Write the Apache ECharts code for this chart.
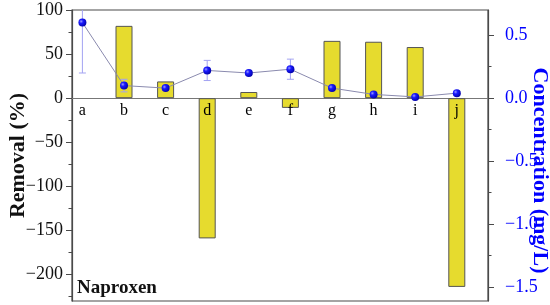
<!DOCTYPE html>
<html><head><meta charset="utf-8">
<script src="https://cdn.jsdelivr.net/npm/echarts@6/dist/echarts.min.js"></script>
<style>html,body{margin:0;padding:0;background:#fff}#c{width:550px;height:305px}</style>
</head><body><div id="c"></div>
<script>
const categories = ['a','b','c','d','e','f','g','h','i','j'];
const removal = [null, 82, 19, -159, 7, -11, 65, 64, 58, -214];
const concentration = [0.60, 0.10, 0.08, 0.22, 0.20, 0.23, 0.08, 0.03, 0.01, 0.04];
const concentrationErr = [0.40, 0.05, 0.015, 0.08, 0.015, 0.08, 0.015, 0.015, 0.01, 0.015];
const removalMajorTicks = [-200, -150, -100, -50, 0, 50, 100];
const removalMinorTicks = [-225, -175, -125, -75, -25, 25, 75];
const concMajorTicks = [-1.5, -1.0, -0.5, 0.0, 0.5];
const concMinorTicks = [-1.25, -0.75, -0.25, 0.25];

const positions = categories.map((c, i) => i + 1);
const SERIF = 'Liberation Serif';
const AX = '#4a4a4a';
const fmtMinus = (s) => s.charAt(0) === '-' ? '\u2212' + s.slice(1) : s;

const barData = positions.map((p, i) => [p, removal[i]]).filter(d => d[1] !== null);
const lineData = positions.map((p, i) => [p, concentration[i]]);
const errData = positions.map((p, i) => [p, concentration[i] - concentrationErr[i], concentration[i] + concentrationErr[i]]);
const catLabelData = positions.map((p, i) => ({value: [p, 0], name: categories[i]}));

const chart = echarts.init(document.getElementById('c'), null, {renderer: 'canvas'});
const LMIN = -230, LMAX = 100, RMIN = -1.61, RMAX = 0.70;

chart.setOption({
  animation: false,
  grid: {left: 72, right: 62, top: 10, bottom: 4, containLabel: false, outerBoundsMode: 'none',
         show: true, borderColor: AX, borderWidth: 1.2, backgroundColor: 'transparent'},
  xAxis: [{
    type: 'value', min: 0.75, max: 10.75,
    axisLine: {show: true, onZero: true, lineStyle: {color: '#777', width: 1}},
    axisTick: {show: false},
    splitLine: {show: false},
    axisLabel: {show: false}
  }],
  yAxis: [{
    type: 'value', position: 'left', min: LMIN, max: LMAX,
    name: 'Removal (%)', nameLocation: 'middle', nameGap: 43, nameMoveOverlap: false,
    nameTextStyle: {fontFamily: SERIF, fontWeight: 'bold', fontSize: 22, color: '#111'},
    axisLine: {show: true, onZero: false, lineStyle: {color: AX, width: 1.2}},
    axisTick: {show: true, customValues: removalMajorTicks, length: 6, lineStyle: {color: AX}},
    axisLabel: {customValues: removalMajorTicks, formatter: (v) => fmtMinus(String(v)), fontFamily: SERIF, fontSize: 18, color: '#111', margin: 9},
    splitLine: {show: false}
  }, {
    type: 'value', position: 'right', min: RMIN, max: RMAX,
    name: 'Concentration (mg/L)', nameLocation: 'middle', nameGap: 41, nameRotate: -90, nameMoveOverlap: false,
    nameTextStyle: {fontFamily: SERIF, fontWeight: 'bold', fontSize: 22, color: '#0000ff', padding: [0, 0, 0, 30]},
    axisLine: {show: true, onZero: false, lineStyle: {color: AX, width: 1.2}},
    axisTick: {show: true, customValues: concMajorTicks, length: 6, lineStyle: {color: AX}},
    axisLabel: {customValues: concMajorTicks, formatter: (v) => fmtMinus(v.toFixed(1)), fontFamily: SERIF, fontSize: 18, color: '#0000ff', margin: 17},
    splitLine: {show: false}
  }, {
    type: 'value', position: 'left', min: LMIN, max: LMAX,
    axisLine: {show: false, onZero: false},
    axisTick: {show: true, customValues: removalMinorTicks, length: 3.5, lineStyle: {color: AX}},
    axisLabel: {show: false}, splitLine: {show: false}
  }, {
    type: 'value', position: 'right', min: RMIN, max: RMAX,
    axisLine: {show: false, onZero: false},
    axisTick: {show: true, customValues: concMinorTicks, length: 3.5, lineStyle: {color: AX}},
    axisLabel: {show: false}, splitLine: {show: false}
  }],
  series: [{
    type: 'bar', xAxisIndex: 0, yAxisIndex: 0, data: barData, barWidth: 17, z: 2,
    itemStyle: {color: '#E6DB2E', borderColor: '#555', borderWidth: 1}
  }, {
    type: 'scatter', xAxisIndex: 0, yAxisIndex: 0, data: catLabelData, symbolSize: 0, z: 5, silent: true,
    itemStyle: {opacity: 1},
    label: {show: true, position: 'bottom', distance: 5, formatter: (p) => p.name,
            fontFamily: SERIF, fontSize: 16, color: '#000', opacity: 1}
  }, {
    type: 'custom', xAxisIndex: 0, yAxisIndex: 1, data: errData, z: 3,
    renderItem: function (params, api) {
      const x = api.value(0), lo = api.value(1), hi = api.value(2);
      const pLo = api.coord([x, lo]);
      const pHi = api.coord([x, hi]);
      const cs = params.coordSys;
      let top = pHi[1], capTop = true;
      if (top < cs.y) { top = cs.y; capTop = false; }
      const st = {stroke: '#a3a3f2', lineWidth: 1};
      const cw = 3.5;
      const ch = [
        {type: 'line', shape: {x1: pLo[0], y1: pLo[1], x2: pLo[0], y2: top}, style: st},
        {type: 'line', shape: {x1: pLo[0] - cw, y1: pLo[1], x2: pLo[0] + cw, y2: pLo[1]}, style: st}
      ];
      if (capTop) ch.push({type: 'line', shape: {x1: pLo[0] - cw, y1: top, x2: pLo[0] + cw, y2: top}, style: st});
      return {type: 'group', children: ch};
    }
  }, {
    type: 'line', xAxisIndex: 0, yAxisIndex: 1, data: lineData, z: 4,
    symbol: 'circle', symbolSize: 8,
    lineStyle: {color: '#8a8aae', width: 1},
    itemStyle: {color: new echarts.graphic.RadialGradient(0.35, 0.35, 0.7, [
      {offset: 0, color: '#9a9aff'}, {offset: 0.35, color: '#1a1aff'}, {offset: 1, color: '#0000a8'}])}
  }],
  graphic: [{
    type: 'text', left: 77, top: 279, z: 10,
    style: {text: 'Naproxen', fontFamily: SERIF, fontWeight: 'bold', fontSize: 19, fill: '#111'}
  }]
});
</script></body></html>
